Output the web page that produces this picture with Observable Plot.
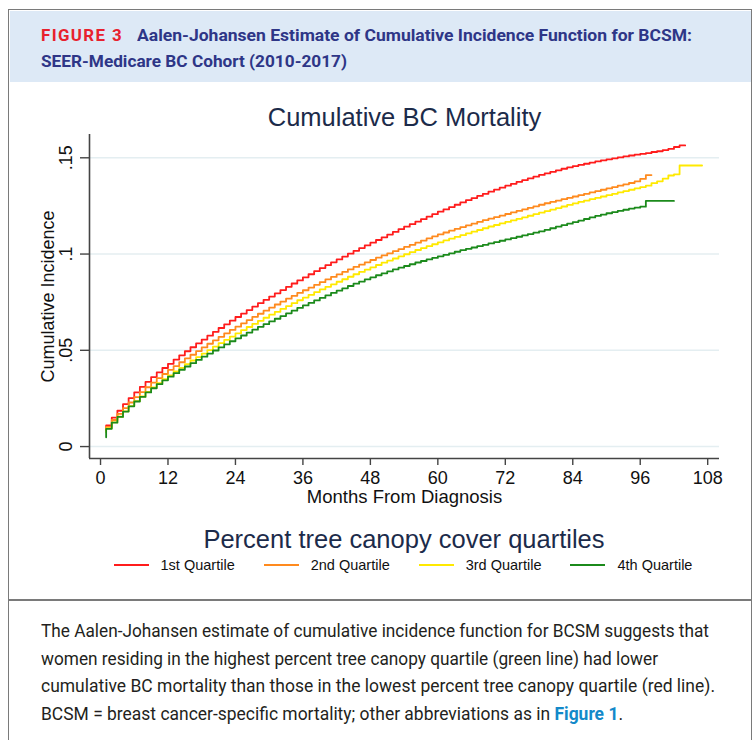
<!DOCTYPE html>
<html><head><meta charset="utf-8">
<script src="https://cdn.jsdelivr.net/npm/d3@7"></script>
<script src="https://cdn.jsdelivr.net/npm/@observablehq/plot@0.6"></script>
<style>
html,body{margin:0;padding:0;background:#fff;}
body{width:756px;height:740px;position:relative;overflow:hidden;font-family:"Liberation Sans",Arial,sans-serif;}
#frame{position:absolute;left:8px;top:9px;width:744px;height:760px;border:1.5px solid #7a7a7a;box-sizing:border-box;}
#header{position:absolute;left:9.5px;top:10.5px;width:741px;height:71px;background:#dde9f6;}
#sep{position:absolute;left:8px;top:599px;width:744px;height:1.5px;background:#7a7a7a;}
.t{position:absolute;white-space:nowrap;transform-origin:0 50%;display:inline-block;}
.hd{font-family:Roboto,"Liberation Sans",sans-serif;font-weight:700;font-size:17px;line-height:20px;color:#2e3687;}
.fig{color:#e8212d;letter-spacing:1.4px;}
.cap{font-family:Roboto,"Liberation Sans",sans-serif;font-size:19px;line-height:22px;color:#231f20;}
.cap b{color:#1389c9;}
#chart{position:absolute;left:0;top:81px;}
#legtitle{position:absolute;left:0;width:808px;top:524px;text-align:center;font-size:25.5px;line-height:30px;color:#1c2b4a;}
#legend{position:absolute;left:0;width:806px;top:556px;display:flex;justify-content:center;gap:29px;font-size:14.5px;line-height:18px;color:#111;}
.item{display:flex;align-items:center;}
.sw{width:35px;height:2px;margin-right:12px;}
</style></head>
<body>
<div id="frame"></div>
<div id="header"></div>
<div id="sep"></div>
<div class="t hd fig" style="left:41px;top:25px" data-w="82">FIGURE 3</div>
<div class="t hd" style="left:137px;top:25px" data-w="555">Aalen-Johansen Estimate of Cumulative Incidence Function for BCSM:</div>
<div class="t hd" style="left:41px;top:51px" data-w="306">SEER-Medicare BC Cohort (2010-2017)</div>
<div id="chart"></div>
<div id="legtitle">Percent tree canopy cover quartiles</div>
<div id="legend"></div>
<div class="t cap" style="left:41px;top:620px" data-w="668">The Aalen-Johansen estimate of cumulative incidence function for BCSM suggests that</div>
<div class="t cap" style="left:41px;top:647.5px" data-w="617">women residing in the highest percent tree canopy quartile (green line) had lower</div>
<div class="t cap" style="left:41px;top:675px" data-w="674">cumulative BC mortality than those in the lowest percent tree canopy quartile (red line).</div>
<div class="t cap" style="left:41px;top:702.5px" data-w="582">BCSM = breast cancer-specific mortality; other abbreviations as in <b>Figure 1</b>.</div>
<script>
// ---- data ----
const quartiles = ["1st Quartile", "2nd Quartile", "3rd Quartile", "4th Quartile"];
const colors = ["#ff1c1c", "#ff8a1e", "#ffe900", "#1b8a1b"];
const startValues = [0.0090, 0.0085, 0.0075, 0.0048];
const endMonths = [104, 98, 107, 102];
// monthly cumulative incidence, month 1..N
const q1 = [.0110,.0150,.0186,.0220,.0252,.0282,.0310,.0336,.0361,.0385,.0408,.0430,
 .0452,.0474,.0495,.0516,.0536,.0556,.0576,.0596,.0616,.0635,.0654,.0673,
 .0691,.0709,.0727,.0745,.0762,.0779,.0796,.0813,.0830,.0847,.0863,.0879,
 .0895,.0911,.0927,.0942,.0957,.0972,.0987,.1002,.1017,.1031,.1045,.1059,
 .1073,.1087,.1101,.1115,.1129,.1142,.1155,.1168,.1181,.1194,.1207,.1220,
 .1232,.1244,.1256,.1268,.1280,.1291,.1302,.1313,.1324,.1335,.1345,.1355,
 .1365,.1375,.1384,.1393,.1402,.1411,.1419,.1427,.1435,.1443,.1450,.1457,
 .1463,.1469,.1475,.1481,.1487,.1492,.1497,.1502,.1507,.1512,.1516,.1520,
 .1524,.1530,.1534,.1540,.1546,.1556,.1564];
const q2 = [.0102,.0138,.0170,.0200,.0229,.0257,.0283,.0308,.0332,.0355,.0377,.0398,
 .0418,.0438,.0458,.0477,.0496,.0515,.0534,.0552,.0570,.0588,.0606,.0623,
 .0640,.0657,.0674,.0690,.0706,.0722,.0738,.0753,.0768,.0783,.0798,.0812,
 .0826,.0840,.0854,.0868,.0881,.0894,.0907,.0920,.0933,.0945,.0957,.0969,
 .0981,.0993,.1004,.1015,.1026,.1037,.1048,.1059,.1070,.1081,.1092,.1102,
 .1112,.1122,.1131,.1140,.1149,.1158,.1167,.1176,.1184,.1192,.1200,.1208,
 .1216,.1224,.1232,.1240,.1248,.1256,.1264,.1271,.1278,.1285,.1292,.1299,
 .1306,.1313,.1320,.1327,.1334,.1341,.1348,.1355,.1362,.1369,.1377,.1390,
 .1410];
const q3 = [.0095,.0126,.0155,.0183,.0210,.0236,.0260,.0284,.0307,.0329,.0350,.0370,
 .0390,.0409,.0428,.0447,.0465,.0483,.0501,.0519,.0537,.0554,.0571,.0588,
 .0605,.0621,.0637,.0653,.0669,.0685,.0700,.0715,.0730,.0745,.0760,.0774,
 .0788,.0802,.0816,.0830,.0843,.0856,.0869,.0882,.0895,.0907,.0919,.0931,
 .0943,.0955,.0966,.0977,.0988,.0999,.1010,.1021,.1031,.1041,.1051,.1061,
 .1071,.1080,.1089,.1098,.1107,.1116,.1125,.1134,.1143,.1151,.1159,.1167,
 .1175,.1183,.1191,.1199,.1207,.1215,.1223,.1231,.1239,.1247,.1255,.1263,
 .1271,.1278,.1285,.1292,.1299,.1306,.1313,.1320,.1327,.1334,.1341,.1348,
 .1355,.1368,.1378,.1392,.1408,.1414,.1460];
const q4 = [.0092,.0124,.0154,.0182,.0209,.0234,.0258,.0281,.0303,.0324,.0344,.0363,
 .0381,.0399,.0416,.0433,.0450,.0467,.0483,.0499,.0515,.0531,.0547,.0562,
 .0577,.0592,.0607,.0622,.0636,.0650,.0664,.0678,.0692,.0706,.0720,.0733,
 .0746,.0759,.0772,.0785,.0798,.0810,.0822,.0834,.0846,.0857,.0868,.0879,
 .0890,.0900,.0910,.0920,.0929,.0938,.0947,.0956,.0964,.0972,.0980,.0988,
 .0996,.1004,.1012,.1020,.1027,.1034,.1041,.1048,.1055,.1062,.1069,.1076,
 .1083,.1090,.1097,.1104,.1111,.1118,.1126,.1134,.1142,.1150,.1158,.1166,
 .1174,.1182,.1190,.1198,.1205,.1212,.1218,.1224,.1230,.1236,.1241,.1246,
 .1276];
const xTicks = [0, 12, 24, 36, 48, 60, 72, 84, 96, 108];
const yTicks = [0, 0.05, 0.1, 0.15];
const yTickLabels = ["0", ".05", ".1", ".15"];
const chartTitle = "Cumulative BC Mortality";
const xLabel = "Months From Diagnosis";
const yLabel = "Cumulative Incidence";

// ---- build table ----
const seriesValues = [q1, q2, q3, q4];
const rows = [];
seriesValues.forEach((vals, s) => {
  rows.push({q: quartiles[s], m: 1, v: startValues[s]});
  vals.forEach((v, i) => rows.push({q: quartiles[s], m: i + 1, v}));
  rows.push({q: quartiles[s], m: endMonths[s], v: vals[vals.length - 1]});
});

const xDomain = [-1.96, 110.1];
const yDomain = [-0.0062, 0.1621];
const axisColor = "#444";

const chart = Plot.plot({
  width: 756, height: 517,
  marginLeft: 89, marginRight: 37, marginTop: 53, marginBottom: 140,
  style: {fontFamily: '"Liberation Sans", Arial, sans-serif', color: "#111", background: "transparent"},
  x: {domain: xDomain},
  y: {domain: yDomain},
  color: {domain: quartiles, range: colors},
  marks: [
    Plot.ruleY(yTicks, {stroke: "#e4eef1", strokeWidth: 1.6}),
    Plot.line(rows, {x: "m", y: "v", z: "q", stroke: "q", curve: "step-after", strokeWidth: 1.8}),
    Plot.ruleX([xDomain[0]], {stroke: axisColor, strokeWidth: 1.6}),
    Plot.ruleY([yDomain[0]], {stroke: axisColor, strokeWidth: 1.6}),
    Plot.axisX({ticks: xTicks, tickSize: 7, tickPadding: 6, fontSize: 18, stroke: axisColor, strokeWidth: 1.4, label: null, tickFormat: d => String(d)}),
    Plot.axisY({ticks: yTicks, tickSize: 9, tickFormat: () => "", stroke: axisColor, strokeWidth: 1.4, label: null}),
    Plot.text(yTicks, {x: () => xDomain[0], y: d => d, text: (d, i) => yTickLabels[i], rotate: -90, dx: -23, fontSize: 18, fill: "#111", textAnchor: "middle", lineAnchor: "middle"}),
    Plot.text([yLabel], {frameAnchor: "left", dx: -41, rotate: -90, fontSize: 18, fill: "#111", textAnchor: "middle", lineAnchor: "middle"}),
    Plot.text([xLabel], {frameAnchor: "bottom", dy: 39, fontSize: 18.5, fill: "#111", textAnchor: "middle", lineAnchor: "middle"}),
    Plot.text([chartTitle], {frameAnchor: "top", dy: -17, fontSize: 25.5, fill: "#1c2b4a", textAnchor: "middle", lineAnchor: "middle"})
  ]
});
document.getElementById("chart").appendChild(chart);

// ---- legend ----
const leg = document.getElementById("legend");
quartiles.forEach((q, i) => {
  const it = document.createElement("div");
  it.className = "item";
  it.innerHTML = `<span class="sw" style="background:${colors[i]}"></span><span>${q}</span>`;
  leg.appendChild(it);
});

// ---- fit condensed text to measured widths ----
document.querySelectorAll("[data-w]").forEach(el => {
  const w = el.getBoundingClientRect().width;
  el.style.transform = `scaleX(${(+el.dataset.w) / w})`;
});
</script>
</body></html>
